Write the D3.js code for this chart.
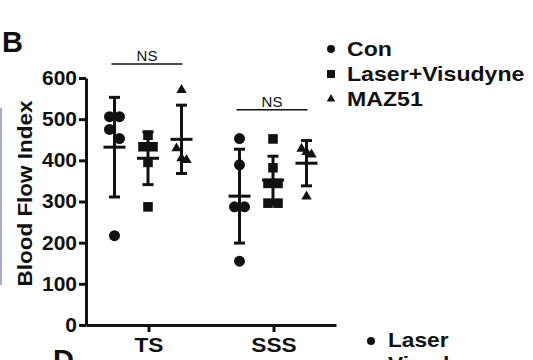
<!DOCTYPE html>
<html>
<head>
<meta charset="utf-8">
<script src="https://cdn.jsdelivr.net/npm/d3@7"></script>
<style>
    body { margin: 0; background: #fff; }
    svg { display: block; font-family: "Liberation Sans", Arial, sans-serif; }
</style>
</head>
<body>
<div id="chart"></div>
<script>
// values (panel B)
const categories = ['TS', 'SSS'];
const seriesNames = ['Con', 'Laser+Visudyne', 'MAZ51'];
const conValues = [[506, 506, 475, 453, 217], [453, 389, 287, 287, 155]];
const laserValues = [[461, 433, 433, 395, 287], [452, 382, 344, 344, 296, 296]];
const mazValues = [[571, 429, 405, 401], [428, 420, 414, 312]];
const conMean = [432, 313];
const laserMean = [405, 352];
const mazMean = [451, 393];
const conSD = [121, 114];
const laserSD = [64, 58];
const mazSD = [83, 55];
const yTicks = [0, 100, 200, 300, 400, 500, 600];
const nsLevels = [634, 523];
const nsLabels = ['NS', 'NS'];

class BloodFlowChart {
    constructor() {
        this.width = 533;
        this.height = 360;
        this.ink = '#111';
        this.init();
    }

    init() {
        this.svg = d3.select('#chart').append('svg')
            .attr('width', this.width)
            .attr('height', this.height);

        this.y = d3.scaleLinear().domain([0, 600]).range([325, 78]);
        this.x = d3.scalePoint().domain(categories).range([86, 336]).padding(0.5);
        this.inner = d3.scalePoint().domain(seriesNames).range([-34, 33]);

        this.series = [
            { name: seriesNames[0], values: conValues, mean: conMean, sd: conSD, symbol: d3.symbolCircle, size: 95, legendSize: 50 },
            { name: seriesNames[1], values: laserValues, mean: laserMean, sd: laserSD, symbol: d3.symbolSquare, size: 92, legendSize: 64 },
            { name: seriesNames[2], values: mazValues, mean: mazMean, sd: mazSD, symbol: d3.symbolTriangle, size: 46, legendSize: 32 }
        ];

        this.drawDecor();
        this.drawAxes();
        this.drawGroups();
        this.drawSignificance();
        this.drawLegend();
    }

    // the figure's lettering is a bit wider than Liberation Sans
    stretch(selection, k) {
        selection.each(function () {
            const w = this.getComputedTextLength();
            d3.select(this)
                .attr('textLength', w * k)
                .attr('lengthAdjust', 'spacingAndGlyphs');
        });
    }

    drawDecor() {
        // bits of neighbouring panels that show in the crop
        this.svg.append('line')
            .attr('x1', 1).attr('x2', 1)
            .attr('y1', 108).attr('y2', 285)
            .attr('stroke', '#a3acd8')
            .attr('stroke-width', 2);

        this.svg.append('text')
            .attr('x', 2).attr('y', 52)
            .attr('font-size', 29).attr('font-weight', 'bold')
            .attr('fill', this.ink)
            .text('B');

        this.svg.append('text')
            .attr('x', 53).attr('y', 370)
            .attr('font-size', 29).attr('font-weight', 'bold')
            .attr('fill', this.ink)
            .text('D');

        this.svg.append('circle')
            .attr('cx', 371).attr('cy', 341).attr('r', 4)
            .attr('fill', this.ink);

        const next = this.svg.selectAll('.next-legend')
            .data(['Laser', 'Visudyne'])
            .join('text')
            .attr('class', 'next-legend')
            .attr('x', 388)
            .attr('y', (d, i) => 347 + i * 24)
            .attr('font-size', 21).attr('font-weight', 'bold')
            .attr('fill', this.ink)
            .text(d => d);
        this.stretch(next, 1.08);
    }

    drawAxes() {
        const yAxis = this.svg.append('g')
            .attr('transform', `translate(${this.x.range()[0]},0)`)
            .call(d3.axisLeft(this.y).tickValues(yTicks).tickSize(7).tickSizeOuter(0).tickPadding(2));

        const xAxis = this.svg.append('g')
            .attr('transform', `translate(0,${this.y(0)})`)
            .call(d3.axisBottom(this.x).tickSize(7).tickSizeOuter(0).tickPadding(5));

        [yAxis, xAxis].forEach(g => {
            g.select('.domain').attr('stroke', this.ink).attr('stroke-width', 3);
            g.selectAll('.tick line').attr('stroke', this.ink).attr('stroke-width', 3);
            g.selectAll('.tick text')
                .attr('fill', this.ink)
                .attr('font-size', 20)
                .attr('font-weight', 'bold')
                .attr('font-family', '"Liberation Sans", Arial, sans-serif');
        });
        xAxis.selectAll('.tick text').attr('font-size', 21);
        this.stretch(xAxis.selectAll('.tick text'), 1.08);
        this.stretch(yAxis.selectAll('.tick text'), 1.05);

        this.svg.append('text')
            .attr('transform', `translate(32,${(100 + 287) / 2}) rotate(-90)`)
            .attr('text-anchor', 'middle')
            .attr('font-size', 21).attr('font-weight', 'bold')
            .attr('textLength', 186)
            .attr('lengthAdjust', 'spacingAndGlyphs')
            .attr('fill', this.ink)
            .text('Blood Flow Index');
    }

    // spread points that sit close together vertically, Prism style
    swarm(values) {
        const sorted = values.map(v => ({ v, py: this.y(v) })).sort((a, b) => a.py - b.py);
        const groups = [];
        sorted.forEach(p => {
            const last = groups[groups.length - 1];
            if (last && p.py - last[last.length - 1].py < 10) last.push(p);
            else groups.push([p]);
        });
        groups.forEach(g => {
            const step = g.length > 1 ? 10 / (g.length - 1) : 0;
            g.forEach((p, i) => { p.dx = (i - (g.length - 1) / 2) * step; });
        });
        return sorted;
    }

    drawGroups() {
        const capW = 11;
        const meanW = 22;

        categories.forEach((cat, ci) => {
            this.series.forEach(s => {
                const cx = this.x(cat) + this.inner(s.name);
                const g = this.svg.append('g');
                const m = s.mean[ci];
                const sd = s.sd[ci];

                // error bar: mean +/- SD
                g.append('line')
                    .attr('x1', cx).attr('x2', cx)
                    .attr('y1', this.y(m + sd)).attr('y2', this.y(m - sd));
                [m + sd, m - sd].forEach(v => {
                    g.append('line')
                        .attr('x1', cx - capW / 2).attr('x2', cx + capW / 2)
                        .attr('y1', this.y(v)).attr('y2', this.y(v));
                });
                g.append('line')
                    .attr('x1', cx - meanW / 2).attr('x2', cx + meanW / 2)
                    .attr('y1', this.y(m)).attr('y2', this.y(m));
                g.selectAll('line')
                    .attr('stroke', this.ink)
                    .attr('stroke-width', 3);

                g.selectAll('path')
                    .data(this.swarm(s.values[ci]))
                    .join('path')
                    .attr('d', d3.symbol(s.symbol, s.size))
                    .attr('transform', d => `translate(${cx + d.dx},${d.py})`)
                    .attr('fill', this.ink);
            });
        });
    }

    drawSignificance() {
        const first = seriesNames[0];
        const last = seriesNames[seriesNames.length - 1];
        categories.forEach((cat, i) => {
            const x1 = this.x(cat) + this.inner(first) - 3;
            const x2 = this.x(cat) + this.inner(last) + 1;
            const yy = this.y(nsLevels[i]);
            this.svg.append('line')
                .attr('x1', x1).attr('x2', x2)
                .attr('y1', yy).attr('y2', yy)
                .attr('stroke', this.ink)
                .attr('stroke-width', 1.5);
            this.svg.append('text')
                .attr('x', (x1 + x2) / 2)
                .attr('y', yy - 3)
                .attr('text-anchor', 'middle')
                .attr('font-size', 15)
                .attr('fill', this.ink)
                .text(nsLabels[i]);
        });
    }

    drawLegend() {
        const rows = this.svg.append('g')
            .selectAll('g')
            .data(this.series)
            .join('g')
            .attr('transform', (d, i) => `translate(331,${49 + i * 25})`);

        rows.append('path')
            .attr('d', d => d3.symbol(d.symbol, d.legendSize)())
            .attr('fill', this.ink);

        const labels = rows.append('text')
            .attr('x', 16)
            .attr('dy', '0.35em')
            .attr('font-size', 21)
            .attr('font-weight', 'bold')
            .attr('fill', this.ink)
            .text(d => d.name);
        this.stretch(labels, 1.1);
    }
}

document.addEventListener('DOMContentLoaded', () => {
    new BloodFlowChart();
});
</script>
</body>
</html>
